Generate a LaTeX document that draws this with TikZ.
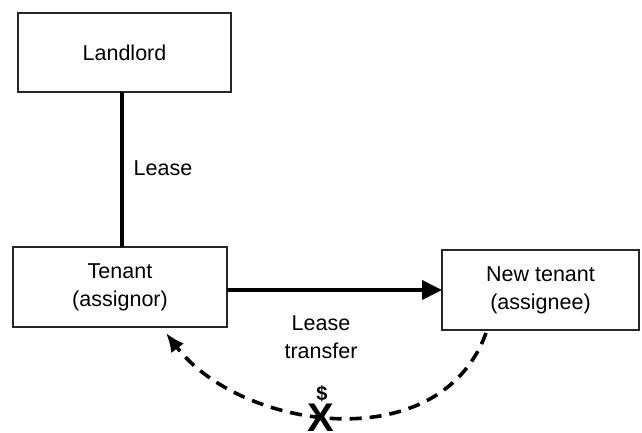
\documentclass[tikz,border=0pt]{standalone}
\usepackage{fontspec}
\setmainfont{Liberation Sans}
\usetikzlibrary{arrows.meta}
\begin{document}
\begin{tikzpicture}[x=1pt,y=-1pt,
  party/.style={draw=black!85, line width=1.3pt, inner sep=0pt, outer sep=0pt,
    align=center, font=\fontsize{21.5}{28}\selectfont},
  label text/.style={align=center, font=\fontsize{21.5}{28}\selectfont},
  thickline/.style={line width=3.8pt},
  payline/.style={line width=3.6pt, dash pattern=on 12pt off 8pt}
]
\useasboundingbox (0,0) rectangle (642,432);

% the three parties
\node[party, minimum width=213pt, minimum height=79pt] (landlord) at (124.5,52.5) {Landlord};
\node[party, minimum width=214pt, minimum height=80pt] (tenant) at (120,287) {Tenant\\(assignor)};
\node[party, minimum width=197pt, minimum height=80pt] (newtenant) at (540.5,290) {New tenant\\(assignee)};

% lease between landlord and tenant
\draw[thickline] ([xshift=2pt]tenant.north) -- ([xshift=2pt]tenant.north |- landlord.south);
\node[label text] (leaselbl) at (163,168) {Lease};

% transfer of the lease
\draw[thickline, -{Triangle[length=20pt,width=19pt]}] (tenant.east |- newtenant.west) -- (newtenant.west);
\node[label text] (transferlbl) at (321,337) {Lease\\transfer};

% payment back to the assignor (crossed out)
\coordinate (paystart) at (486,333);
\coordinate (payend) at (166,333);
\draw[payline, -{Latex[length=19pt,width=16pt]}] (paystart) .. controls (440,460) and (240,430) .. (payend);
\node[font=\fontsize{40}{40}\bfseries\selectfont, inner sep=0pt, anchor=north] (cross) at (321,404) {X};
\node[font=\fontsize{20}{20}\bfseries\selectfont, inner sep=0pt, anchor=south] (dollar) at (322,402) {\$};
\end{tikzpicture}
\end{document}
